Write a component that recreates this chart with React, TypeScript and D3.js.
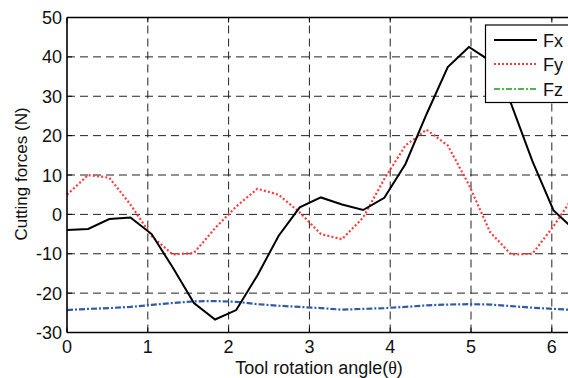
import React from "react";
import * as d3 from "d3";

const angles: number[] = d3.range(25).map((i) => (i * Math.PI) / 12);
const fx: number[] = [-4, -3.7, -1.2, -0.8, -5, -13.5, -22.5, -26.7, -24.3, -15.5, -5.5, 1.8, 4.3, 2.5, 1.1, 4.2, 12.8, 25.5, 37.4, 42.5, 39, 28, 13.5, 1, -4];
const fy: number[] = [5, 10, 9.3, 2.5, -5.5, -10.2, -9.8, -3.5, 2, 6.5, 5, 0.5, -5, -6.3, -0.8, 9, 17.5, 21.5, 17.5, 7.5, -4.5, -10.2, -10, -3, 5];
const fz: number[] = [-24.3, -24.0, -23.8, -23.5, -23.0, -22.5, -22.1, -22.0, -22.2, -22.8, -23.2, -23.5, -23.8, -24.2, -24.0, -23.8, -23.5, -23.1, -22.9, -22.8, -22.9, -23.3, -23.7, -24.0, -24.3];
const xTicks: number[] = [0, 1, 2, 3, 4, 5, 6];
const yTicks: number[] = [-30, -20, -10, 0, 10, 20, 30, 40, 50];
const legendLabels: string[] = ["Fx", "Fy", "Fz"];

export default function App() {
  const W = 568, H = 378;
  const x = d3.scaleLinear().domain([0, 2 * Math.PI]).range([67, 574.7]);
  const y = d3.scaleLinear().domain([-30, 50]).range([332.5, 17.5]);
  const line = (vals: number[]) =>
    d3.line<number>().x((_, i) => x(angles[i])).y((d) => y(d))(vals) || "";
  const font = "'Liberation Sans', Arial, sans-serif";
  const legendStyles = [
    { stroke: "#000", dash: "none", width: 2 },
    { stroke: "#ff3b3b", dash: "2,2", width: 2 },
    { stroke: "#4cb84c", dash: "6,2,2,2", width: 2 },
  ];
  const legY = [40, 64, 89];
  return (
    <svg width={W} height={H} style={{ position: "absolute", left: 0, top: 0, background: "#fff" }}>
      <defs>
        <clipPath id="plot">
          <rect x={67} y={17.5} width={574.7 - 67} height={332.5 - 17.5} />
        </clipPath>
      </defs>
      <rect x={0} y={0} width={W} height={H} fill="#fff" />
      {/* grid */}
      {xTicks.slice(1).map((t) => (
        <line key={"gx" + t} x1={x(t)} x2={x(t)} y1={y(-30)} y2={y(50)} stroke="#222" strokeWidth={1} strokeDasharray="8,5" />
      ))}
      {yTicks.slice(1, -1).map((t) => (
        <line key={"gy" + t} x1={x(0)} x2={574.7} y1={y(t)} y2={y(t)} stroke="#222" strokeWidth={1} strokeDasharray="8,5" />
      ))}
      {/* series */}
      <g clipPath="url(#plot)" fill="none">
        <path d={line(fz)} stroke="#2f5aa6" strokeWidth={2.2} strokeDasharray="6,2,2,2" />
        <path d={line(fy)} stroke="#ff3b3b" strokeWidth={2.2} strokeDasharray="2,2.2" />
        <path d={line(fx)} stroke="#000" strokeWidth={2} />
      </g>
      {/* axes frame */}
      <line x1={67} x2={67} y1={y(50)} y2={y(-30)} stroke="#000" strokeWidth={1.6} />
      <line x1={67} x2={W} y1={y(-30)} y2={y(-30)} stroke="#000" strokeWidth={1.6} />
      <line x1={67} x2={W} y1={y(50)} y2={y(50)} stroke="#000" strokeWidth={1.4} />
      {xTicks.map((t) => (
        <g key={"xt" + t}>
          <line x1={x(t)} x2={x(t)} y1={y(-30)} y2={y(-30) - 5} stroke="#000" />
          <line x1={x(t)} x2={x(t)} y1={y(50)} y2={y(50) + 5} stroke="#000" />
          <text x={x(t)} y={353} textAnchor="middle" fontFamily={font} fontSize={18} fill="#111">{t}</text>
        </g>
      ))}
      {yTicks.map((t) => (
        <g key={"yt" + t}>
          <line x1={67} x2={72} y1={y(t)} y2={y(t)} stroke="#000" />
          <text x={62} y={y(t) + 6.5} textAnchor="end" fontFamily={font} fontSize={18} fill="#111">{t}</text>
        </g>
      ))}
      <text x={319} y={374} textAnchor="middle" fontFamily={font} fontSize={18} fill="#111">
        Tool rotation angle(<tspan fontFamily="'Liberation Serif', 'Times New Roman', serif">θ</tspan>)
      </text>
      <text transform="translate(27,174) rotate(-90)" textAnchor="middle" fontFamily={font} fontSize={17} fill="#111">
        Cutting forces (N)
      </text>
      {/* legend */}
      <rect x={485.5} y={25} width={100} height={77.5} fill="#fff" stroke="#000" strokeWidth={1.2} />
      {legendLabels.map((l, i) => (
        <g key={l}>
          <line x1={494} x2={537} y1={legY[i]} y2={legY[i]} stroke={legendStyles[i].stroke} strokeWidth={legendStyles[i].width} strokeDasharray={legendStyles[i].dash} />
          <text x={543} y={legY[i] + 6.5} fontFamily={font} fontSize={18} fill="#111">{l}</text>
        </g>
      ))}
    </svg>
  );
}
